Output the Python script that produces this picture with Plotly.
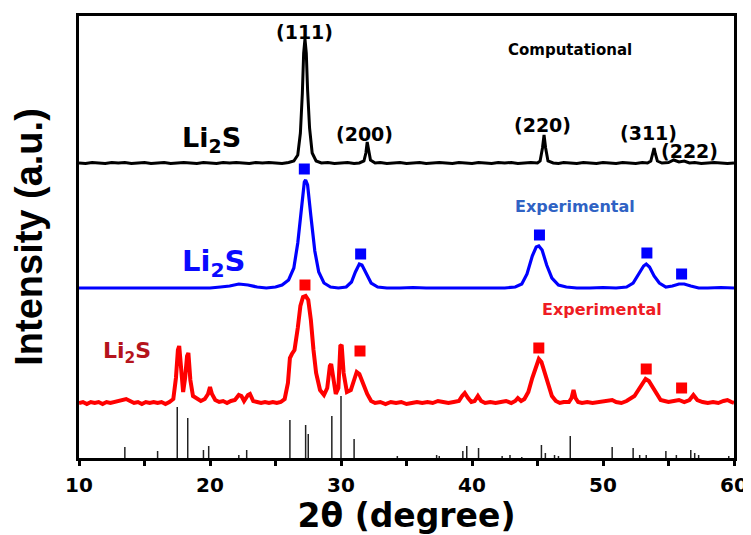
import plotly.graph_objects as go

# ---------------- data (2theta in degrees, intensity in arbitrary units) ----------------
comp_2theta = [10.0, 10.5, 11.0, 11.5, 12.0, 12.5, 13.0, 13.5, 14.0, 14.5,
               15.0, 15.5, 16.0, 16.5, 17.0, 17.5, 18.0, 18.5, 19.0, 19.5,
               20.0, 20.5, 21.0, 21.5, 22.0, 22.5, 23.0, 23.5, 24.0, 24.5,
               25.0, 25.5, 26.0, 26.4, 26.7, 26.9, 27.05, 27.15, 27.25, 27.35,
               27.45, 27.6, 27.8, 28.1, 28.5, 29.0, 29.5, 30.0, 30.5, 31.0,
               31.4, 31.75, 31.9, 32.0, 32.1, 32.25, 32.6, 33.0, 33.5, 34.0,
               34.5, 35.0, 35.5, 36.0, 36.5, 37.0, 37.5, 38.0, 38.5, 39.0,
               39.5, 40.0, 40.5, 41.0, 41.5, 42.0, 42.5, 43.0, 43.5, 44.0,
               44.5, 45.0, 45.2, 45.38, 45.5, 45.62, 45.8, 46.2, 46.6, 47.0,
               47.5, 48.0, 48.5, 49.0, 49.5, 50.0, 50.5, 51.0, 51.5, 52.0,
               52.5, 53.0, 53.4, 53.65, 53.8, 53.9, 54.0, 54.15, 54.5, 55.0,
               55.4, 55.8, 56.2, 56.6, 57.0, 57.5, 58.0, 58.5, 59.0, 59.5,
               60.0]
comp_int = [295, 294.5, 295.5, 295, 294.5, 295.5, 295, 295.5, 294.5, 295,
            295.5, 294.5, 295, 295.5, 294.5, 295, 295.5, 295, 294.5, 295.5,
            295, 294.5, 295.5, 295, 295.5, 295, 294.5, 295.5, 295, 295.5,
            295, 294.5, 295.5, 297, 303, 325, 365, 405, 419, 405,
            368, 330, 305, 297, 295, 295.5, 294.5, 295, 295.5, 294.5,
            295, 297, 305, 316, 307, 298, 295, 295.5, 294.5, 295,
            295.5, 294.5, 295, 295.5, 294.5, 295, 295.5, 295, 294.5, 295.5,
            295, 294.5, 295.5, 295, 294.5, 295.5, 295, 295.5, 294.5, 295,
            295.5, 295, 297, 310, 323, 310, 297, 295, 294.5, 295.5,
            295, 294.5, 295.5, 295, 294.5, 295.5, 295, 294.5, 295.5, 295,
            294.5, 295.5, 295, 297, 304, 310, 304, 297, 295, 295.5,
            298, 296, 297, 295, 295.5, 294.5, 295, 295.5, 295, 294.5,
            295]

exp1_2theta = [10.0, 11.0, 12.0, 13.0, 14.0, 15.0, 16.0, 17.0, 18.0, 19.0,
               20.0, 20.8, 21.5, 22.2, 22.9, 23.6, 24.3, 25.0, 25.5, 26.0,
               26.4, 26.7, 27.0, 27.2, 27.3, 27.45, 27.7, 28.0, 28.3, 28.7,
               29.2, 29.8, 30.4, 30.8, 31.1, 31.4, 31.6, 31.9, 32.3, 32.8,
               33.5, 34.5, 35.5, 36.5, 37.5, 38.5, 39.5, 40.5, 41.5, 42.5,
               43.3, 43.8, 44.2, 44.6, 44.9, 45.1, 45.35, 45.7, 46.1, 46.6,
               47.2, 48.0, 49.0, 50.0, 51.0, 51.8, 52.3, 52.8, 53.1, 53.3,
               53.55, 53.9, 54.3, 54.8, 55.3, 55.8, 56.2, 56.7, 57.3, 58.0,
               59.0, 60.0]
exp1_int = [170, 170, 170.5, 170, 170, 170.5, 170, 170, 170.5, 170,
            170, 171, 172, 174, 173, 171, 170, 171, 173, 178,
            190, 215, 255, 276, 278, 273, 242, 207, 186, 175,
            171, 170, 171, 176, 186, 194, 193, 185, 175, 171,
            170, 170, 170.5, 170, 170, 170.5, 170, 170, 170.5, 170,
            171, 174, 184, 202, 211, 212, 208, 193, 180, 173,
            171, 170, 170, 170.5, 170, 171, 175, 186, 192, 194,
            191, 182, 175, 171, 172, 174, 174, 172, 170, 170,
            170.5, 170]

exp2_2theta = [10.0, 10.3, 10.6, 10.9, 11.2, 11.5, 11.8, 12.1, 12.4, 12.7,
               13.0, 13.3, 13.6, 13.9, 14.2, 14.5, 14.8, 15.1, 15.4, 15.7,
               16.0, 16.3, 16.6, 16.9, 17.2, 17.4, 17.55, 17.65, 17.8, 17.95,
               18.1, 18.25, 18.35, 18.5, 18.7, 19.0, 19.3, 19.6, 19.85, 20.0,
               20.15, 20.4, 20.7, 21.0, 21.3, 21.6, 21.9, 22.2, 22.4, 22.6,
               22.9, 23.05, 23.3, 23.6, 23.9, 24.2, 24.5, 24.8, 25.1, 25.4,
               25.7, 25.95, 26.1, 26.25, 26.45, 26.7, 26.9, 27.1, 27.3, 27.5,
               27.7, 27.9, 28.1, 28.4, 28.7, 28.95, 29.15, 29.25, 29.4, 29.6,
               29.8, 29.95, 30.05, 30.2, 30.45, 30.75, 31.0, 31.2, 31.4, 31.7,
               32.0, 32.3, 32.6, 33.0, 33.4, 33.8, 34.2, 34.6, 35.0, 35.4,
               35.8, 36.2, 36.6, 37.0, 37.4, 37.8, 38.2, 38.6, 39.0, 39.25,
               39.45, 39.7, 39.95, 40.2, 40.45, 40.7, 41.0, 41.4, 41.8, 42.2,
               42.6, 43.0, 43.3, 43.5, 43.75, 44.0, 44.3, 44.6, 44.9, 45.1,
               45.3, 45.55, 45.8, 46.1, 46.4, 46.7, 47.0, 47.4, 47.6, 47.75,
               47.9, 48.1, 48.4, 48.8, 49.2, 49.6, 50.0, 50.4, 50.7, 51.0,
               51.4, 51.8, 52.1, 52.4, 52.7, 53.0, 53.25, 53.5, 53.8, 54.1,
               54.4, 54.7, 55.0, 55.4, 55.8, 56.2, 56.6, 56.9, 57.2, 57.6,
               58.0, 58.4, 58.8, 59.2, 59.5, 59.8, 60.0]
exp2_int = [55, 56, 54, 56, 55, 56, 54, 56, 55, 56,
            56, 58, 59, 57, 55, 56, 54, 56, 55, 56,
            55, 56, 54, 56, 59, 80, 108, 112, 85, 66,
            80, 102, 105, 78, 62, 59, 57, 59, 64, 71,
            64, 58, 56, 57, 55, 57, 58, 63, 62, 57,
            63, 64, 57, 56, 55, 56, 55, 56, 55, 56,
            59, 75, 100, 104, 108, 130, 152, 161, 162, 158,
            138, 108, 85, 68, 63, 70, 92, 94, 78, 64,
            70, 112, 113, 85, 66, 68, 78, 86, 84, 74,
            64, 57, 55, 56, 54, 56, 55, 56, 54, 55,
            56, 55, 56, 55, 57, 56, 55, 56, 57, 62,
            65, 60, 56, 57, 62, 57, 55, 56, 55, 56,
            57, 55, 57, 60, 57, 59, 66, 80, 93, 99,
            96, 85, 72, 62, 57, 55, 56, 56, 60, 68,
            60, 56, 55, 56, 55, 56, 56, 57, 58, 56,
            55, 57, 60, 62, 68, 75, 79, 77, 70, 63,
            58, 57, 56, 57, 58, 56, 58, 63, 58, 56,
            55, 56, 55, 57, 58, 56, 55]

# reference stick pattern
stick_2theta = [13.5, 16.0, 17.5, 18.3, 19.5, 19.9, 22.2, 22.8, 26.1, 27.3,
                27.5, 29.3, 30.0, 31.0, 34.3, 37.3, 37.5, 39.3, 39.6, 40.5,
                42.3, 42.9, 43.8, 45.3, 45.6, 46.3, 46.6, 47.5, 50.7, 52.3,
                52.8, 53.3, 54.8, 55.6, 56.7, 57.0, 57.3, 59.6]
stick_int = [11, 7, 51, 40, 8, 12, 3, 8, 38, 33,
             24, 42, 62, 19, 2, 3, 2, 7, 12, 10,
             2, 3, 1, 13, 5, 3, 2, 22, 11, 10,
             3, 3, 7, 3, 8, 5, 3, 2]

# Li2S peak markers
blue_mark_2theta = [27.2, 31.5, 45.15, 53.35, 56.0]
blue_mark_int = [289, 204, 223, 205, 184]
red_mark_2theta = [27.25, 31.45, 45.1, 53.3, 56.0]
red_mark_int = [173, 107, 110, 89, 70]

# hkl labels
hkl_labels = ["(111)", "(200)", "(220)", "(311)", "(222)"]
hkl_2theta = [27.2, 31.8, 45.4, 53.5, 56.6]
hkl_int = [426, 324, 333, 325, 307]

x_ticks = [10, 20, 30, 40, 50, 60]

# ---------------- figure ----------------
BOLD = "DejaVu Sans"
fig = go.Figure()

# stick pattern as vertical segments
sx, sy = [], []
for p, h in zip(stick_2theta, stick_int):
    sx += [p, p, None]
    sy += [0, h, None]
fig.add_trace(go.Scatter(x=sx, y=sy, mode="lines",
                         line=dict(color="#222222", width=1.5), hoverinfo="skip"))

fig.add_trace(go.Scatter(x=exp2_2theta, y=exp2_int, mode="lines",
                         line=dict(color="#ff0000", width=4)))
fig.add_trace(go.Scatter(x=exp1_2theta, y=exp1_int, mode="lines",
                         line=dict(color="#0000ff", width=3.2)))
fig.add_trace(go.Scatter(x=comp_2theta, y=comp_int, mode="lines",
                         line=dict(color="#000000", width=3)))

fig.add_trace(go.Scatter(x=blue_mark_2theta, y=blue_mark_int, mode="markers",
                         marker=dict(symbol="square", size=11, color="#0000ff")))
fig.add_trace(go.Scatter(x=red_mark_2theta, y=red_mark_int, mode="markers",
                         marker=dict(symbol="square", size=11, color="#ff0000")))

annotations = []
for t, x, y in zip(hkl_labels, hkl_2theta, hkl_int):
    annotations.append(dict(x=x, y=y, xref="x", yref="y", text=t, showarrow=False,
                            font=dict(family=BOLD, size=19, color="black", weight="bold")))

annotations += [
    dict(x=47.45, y=408, xref="x", yref="y", text="Computational", showarrow=False,
         font=dict(family=BOLD, size=15, color="black", weight="bold")),
    dict(x=47.9, y=252, xref="x", yref="y", text="Experimental", showarrow=False,
         font=dict(family=BOLD, size=16, color="#2f62c4", weight="bold")),
    dict(x=49.95, y=149, xref="x", yref="y", text="Experimental", showarrow=False,
         font=dict(family=BOLD, size=16, color="#ee1c24", weight="bold")),
    dict(x=20.1, y=319, xref="x", yref="y", text="Li<sub>2</sub>S", showarrow=False,
         font=dict(family=BOLD, size=27, color="black", weight="bold")),
    dict(x=20.3, y=195, xref="x", yref="y", text="Li<sub>2</sub>S", showarrow=False,
         font=dict(family=BOLD, size=29, color="#0a0aff", weight="bold")),
    dict(x=13.7, y=106, xref="x", yref="y", text="Li<sub>2</sub>S", showarrow=False,
         font=dict(family=BOLD, size=22, color="#b5141c", weight="bold")),
]

# the page body adds an 8px offset, so the figure is 8px smaller on each axis
fig.update_layout(
    width=743, height=527,
    margin=dict(l=71, r=17, t=8, b=77, autoexpand=False),
    plot_bgcolor="white", paper_bgcolor="white",
    showlegend=False,
    annotations=annotations,
    xaxis=dict(
        range=[10, 60], showline=True, mirror=True, linewidth=3, linecolor="black",
        showgrid=False, zeroline=False,
        ticks="outside", ticklen=5, tickwidth=3, tickcolor="black",
        tickvals=x_ticks, ticktext=[str(v) for v in x_ticks],
        ticklabelstandoff=2,
        minor=dict(dtick=5, tick0=5, ticks="outside", ticklen=5, tickwidth=3, tickcolor="black"),
        tickfont=dict(family=BOLD, size=20, color="black", weight="bold"),
        title=dict(text="2θ (degree)", standoff=4,
                   font=dict(family=BOLD, size=33, color="black", weight="bold")),
        automargin=False,
    ),
    yaxis=dict(
        range=[0, 442], showline=True, mirror=True, linewidth=3, linecolor="black",
        showgrid=False, zeroline=False, showticklabels=False, ticks="",
        title=dict(text="Intensity (a.u.)", standoff=23,
                   font=dict(family="Liberation Sans", size=38, color="black", weight="bold")),
        automargin=False,
    ),
)

fig.write_html("out.html")
